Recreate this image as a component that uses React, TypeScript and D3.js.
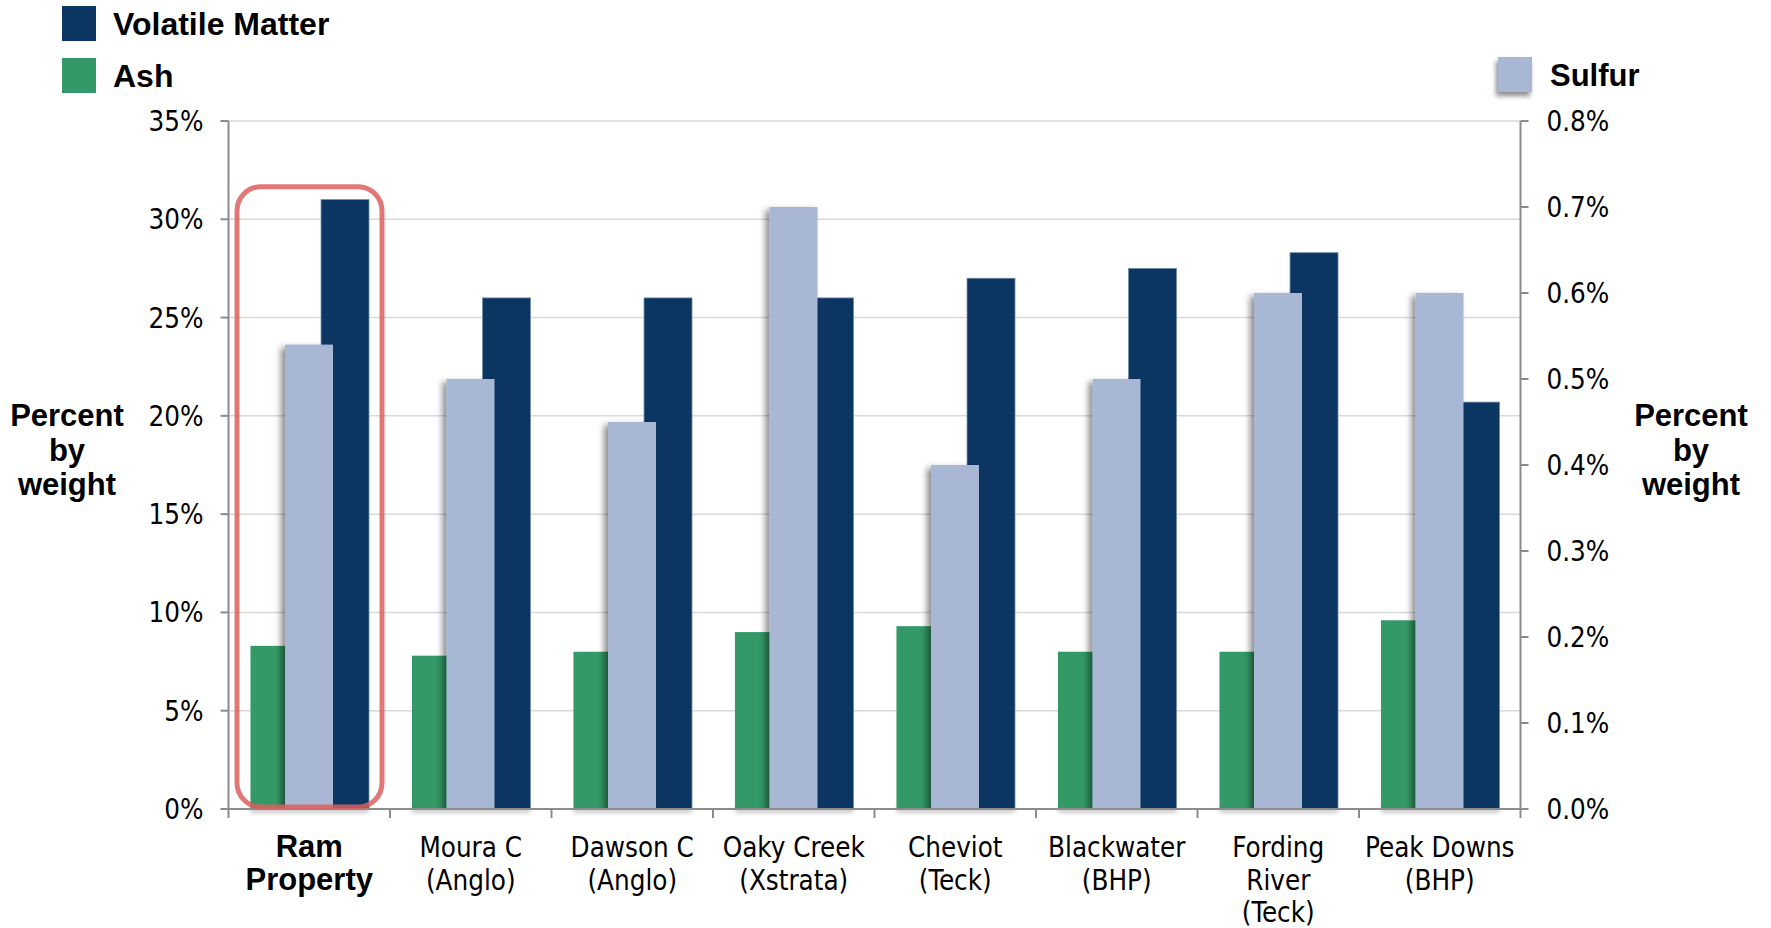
import React from "react";
import * as d3 from "d3";

// data
const categories = ["Ram Property", "Moura C (Anglo)", "Dawson C (Anglo)", "Oaky Creek (Xstrata)", "Cheviot (Teck)", "Blackwater (BHP)", "Fording River (Teck)", "Peak Downs (BHP)"];
const labelLines = [["Ram", "Property"], ["Moura C", "(Anglo)"], ["Dawson C", "(Anglo)"], ["Oaky Creek", "(Xstrata)"], ["Cheviot", "(Teck)"], ["Blackwater", "(BHP)"], ["Fording", "River", "(Teck)"], ["Peak Downs", "(BHP)"]];
const ash = [8.3, 7.8, 8.0, 9.0, 9.3, 8.0, 8.0, 9.6];
const volatileMatter = [31.0, 26.0, 26.0, 26.0, 27.0, 27.5, 28.3, 20.7];
const sulfur = [0.54, 0.50, 0.45, 0.70, 0.40, 0.50, 0.60, 0.60];
const leftTicks = [0, 5, 10, 15, 20, 25, 30, 35];
const rightTicks = [0, 0.1, 0.2, 0.3, 0.4, 0.5, 0.6, 0.7, 0.8];

const W = 1771;
const H = 928;
const left = 228.5;
const right = 1520.5;
const top = 121;
const base = 809;

const C_VM = "#0b3661";
const C_ASH = "#339966";
const C_S = "#a8b7d4";
const C_AXIS = "#8c8c8c";
const C_GRID = "#d9d9d9";

const condensed = "'DejaVu Sans Condensed', 'DejaVu Sans', sans-serif";
const boldFont = "'Liberation Sans', Arial, sans-serif";

export default function App() {
    const x = d3.scaleBand().domain(categories).range([left, right]).padding(0);
    const yL = d3.scaleLinear().domain([0, 35]).range([base, top]);
    const yR = d3.scaleLinear().domain([0, 0.8]).range([base, top]);
    const bw = x.bandwidth();
    const fmtL = (v) => v + "%";
    const fmtR = d3.format(".1f");

    // bar slots inside a band (fractions of the band); sulfur sits on top, overlapping both
    const slotAsh = [0.136, 0.433];
    const slotS = [0.35, 0.647];
    const slotVM = [0.573, 0.87];

    const boxX0 = x(categories[0]) + 8.5;
    const boxX1 = x(categories[0]) + bw - 8;
    const boxY0 = yL(volatileMatter[0]) - 13;

    return (
        <svg width={W} height={H} style={{ position: "absolute", left: 0, top: 0, background: "#fff" }}>
            <defs>
                <filter id="legShadow" x="-40%" y="-30%" width="180%" height="180%">
                    <feDropShadow dx="-2" dy="4" stdDeviation="2.5" floodColor="#000" floodOpacity="0.45" />
                </filter>
                <filter id="barShadow" x="-40%" y="-5%" width="160%" height="110%">
                    <feDropShadow dx="-4" dy="3" stdDeviation="3" floodColor="#000" floodOpacity="0.45" />
                </filter>
                <filter id="baseShadow" x="-10%" y="-100%" width="120%" height="300%">
                    <feGaussianBlur stdDeviation="2.5" />
                </filter>
            </defs>

            {/* gridlines */}
            {leftTicks.filter((t) => t > 0).map((t) => (
                <line key={"g" + t} x1={left} x2={right} y1={yL(t)} y2={yL(t)} stroke={C_GRID} strokeWidth={1.5} />
            ))}

            {/* soft shadow under bars */}
            {categories.map((c) => (
                <rect key={"sh" + c} x={x(c) + bw * slotAsh[0]} y={base - 1} width={bw * (slotVM[1] - slotAsh[0])} height={4}
                    fill="#000" opacity={0.3} filter="url(#baseShadow)" />
            ))}

            {/* bars */}
            {categories.map((c, i) => {
                const x0 = x(c);
                return (
                    <g key={"b" + c}>
                        <rect x={x0 + bw * slotAsh[0]} y={yL(ash[i])} width={bw * (slotAsh[1] - slotAsh[0])} height={base - yL(ash[i])} fill={C_ASH} />
                        <rect x={x0 + bw * slotVM[0]} y={yL(volatileMatter[i])} width={bw * (slotVM[1] - slotVM[0])} height={base - yL(volatileMatter[i])}
                            fill={C_VM} stroke="#6f8aa8" strokeWidth={0.8} />
                    </g>
                );
            })}
            <g clipPath="url(#plotClip)">
                {categories.map((c, i) => (
                    <rect key={"s" + c} x={x(c) + bw * slotS[0]} y={yR(sulfur[i])} width={bw * (slotS[1] - slotS[0])} height={base - yR(sulfur[i])}
                        fill={C_S} filter="url(#barShadow)" />
                ))}
            </g>
            <clipPath id="plotClip">
                <rect x={left} y={0} width={right - left} height={base} />
            </clipPath>

            {/* axes */}
            <line x1={left} x2={left} y1={top} y2={base} stroke={C_AXIS} strokeWidth={2} />
            <line x1={right} x2={right} y1={top} y2={base} stroke={C_AXIS} strokeWidth={2} />
            <line x1={left} x2={right} y1={base} y2={base} stroke={C_AXIS} strokeWidth={2} />
            {leftTicks.map((t) => (
                <g key={"lt" + t}>
                    <line x1={left - 8} x2={left} y1={yL(t)} y2={yL(t)} stroke={C_AXIS} strokeWidth={2} />
                    <text x={left - 25} y={yL(t) + 10} textAnchor="end" fontFamily={condensed} fontSize={27.5}>{fmtL(t)}</text>
                </g>
            ))}
            {rightTicks.map((t) => (
                <g key={"rt" + t}>
                    <line x1={right} x2={right + 8} y1={yR(t)} y2={yR(t)} stroke={C_AXIS} strokeWidth={2} />
                    <text x={right + 26} y={yR(t) + 10} textAnchor="start" fontFamily={condensed} fontSize={27.5}>{fmtR(t)}%</text>
                </g>
            ))}
            {categories.concat(["end"]).map((c, i) => {
                const xx = i < categories.length ? x(c) : right;
                return <line key={"xt" + i} x1={xx} x2={xx} y1={base} y2={base + 9} stroke={C_AXIS} strokeWidth={2} />;
            })}

            {/* category labels */}
            {categories.map((c, i) => (
                <text key={"cl" + c} x={x(c) + bw / 2} textAnchor="middle"
                    fontFamily={i === 0 ? boldFont : condensed}
                    fontWeight={i === 0 ? "bold" : "normal"}
                    fontSize={i === 0 ? 31 : 27.5}>
                    {labelLines[i].map((l, j) => (
                        <tspan key={j} x={x(c) + bw / 2} y={857 + j * 32.5}>{l}</tspan>
                    ))}
                </text>
            ))}

            {/* red highlight box */}
            <rect x={boxX0} y={boxY0} width={boxX1 - boxX0} height={base - 2 - boxY0} rx={24} ry={24}
                fill="none" stroke="#dc5f5f" strokeOpacity={0.85} strokeWidth={5} />

            {/* axis titles */}
            {[67, 1691].map((cx) => (
                <text key={"at" + cx} textAnchor="middle" fontFamily={boldFont} fontWeight="bold" fontSize={31}>
                    <tspan x={cx} y={426}>Percent</tspan>
                    <tspan x={cx} y={461}>by</tspan>
                    <tspan x={cx} y={495}>weight</tspan>
                </text>
            ))}

            {/* legend */}
            <rect x={62} y={6} width={34} height={35} fill={C_VM} />
            <text x={113} y={35} fontFamily={boldFont} fontWeight="bold" fontSize={32}>Volatile Matter</text>
            <rect x={62} y={58} width={34} height={35} fill={C_ASH} />
            <text x={113} y={87} fontFamily={boldFont} fontWeight="bold" fontSize={32}>Ash</text>
            <rect x={1498} y={57} width={34} height={35} fill={C_S} filter="url(#legShadow)" />
            <text x={1550} y={86} fontFamily={boldFont} fontWeight="bold" fontSize={31}>Sulfur</text>
        </svg>
    );
}
